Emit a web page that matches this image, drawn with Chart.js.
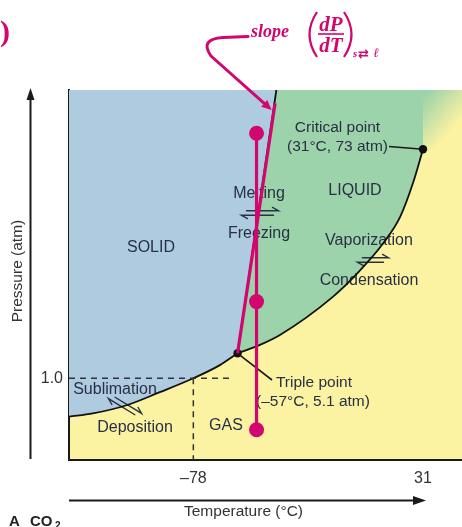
<!DOCTYPE html>
<html><head><meta charset="utf-8">
<script src="https://cdn.jsdelivr.net/npm/chart.js@4/dist/chart.umd.min.js"></script>
<style>html,body{margin:0;padding:0;background:#fff;}#wrap{width:462px;height:527px;}</style>
</head><body><div id="wrap"><canvas id="c" width="462" height="527"></canvas></div>
<script>
// ---------------- DATA (temperature °C, pressure atm; schematic CO2 phase diagram) ----------------
const sublimationT = [-137, -125.7, -109.7, -93.9, -78, -65.4, -57];
const sublimationP = [0.53, 0.57, 0.67, 0.83, 1.0, 3.16, 5.1];
const vaporizationT = [-57, -46.4, -36.9, -11.8, -0.2, 12.1, 20.2, 26.2, 31];
const vaporizationP = [5.1, 7.9, 11.2, 23.9, 31.7, 41.7, 50.6, 61.7, 73];
const fusionT = [-57, -38.6];
const fusionP = [5.1, 100];
const slopeT = [-57, -39.2];
const slopeP = [5.1, 94];
const pathT = [-48, -48, -48];
const pathP = [80.3, 22.3, 0.37];
const specialT = [-57, 31];      // triple point, critical point
const specialP = [5.1, 73];
const isobarT = [-137, -59.2];
const isobarP = [1.0, 1.0];
const isothermT = [-78, -78];
const isothermP = [1.0, 0];
const supercritT = [31, 49.5];
const supercritP = [73, 73];
const xTickValues = [-78, 31];
const yTickValues = [1.0];

// solid region boundary = sublimation curve followed by melting curve
const solidT = sublimationT.concat(fusionT.slice(1));
const solidP = sublimationP.concat(fusionP.slice(1));

// ---------------- schematic (non-linear) pressure axis ----------------
const P_KNOTS = [0, 1, 5.1, 73, 100];
const F_KNOTS = [0, 0.2208, 0.2884, 0.8397, 1];
function interp(v, xs, ys) {
  const n = xs.length - 1;
  if (v <= xs[0]) return ys[0] + (v - xs[0]) * (ys[1] - ys[0]) / (xs[1] - xs[0]);
  for (let i = 1; i <= n; i++) {
    if (v <= xs[i]) return ys[i-1] + (v - xs[i-1]) * (ys[i] - ys[i-1]) / (xs[i] - xs[i-1]);
  }
  return ys[n] + (v - xs[n]) * (ys[n] - ys[n-1]) / (xs[n] - xs[n-1]);
}
class PiecewiseScale extends Chart.LinearScale {
  getPixelForValue(v) { return v == null ? NaN : this.getPixelForDecimal(interp(v, P_KNOTS, F_KNOTS)); }
  getValueForPixel(p) { return interp(this.getDecimalForPixel(p), F_KNOTS, P_KNOTS); }
}
PiecewiseScale.id = 'piecewise';
PiecewiseScale.defaults = Chart.LinearScale.defaults;
Chart.register(PiecewiseScale);

// ---------------- styles ----------------
const MAG = '#d1066e';
const BLUE = '#afcbe0';
const GREEN = '#9dd3aa';
const YELLOW = '#fbf2a2';
const INK = '#283044';
const SANS = '"Liberation Sans", Arial, sans-serif';
const SERIF = '"Liberation Serif", "Times New Roman", serif';
const pts = (T, P) => T.map((t, i) => ({ x: t, y: P[i] }));

function equil(ctx, cx, cy, len, ang) {
  ctx.save();
  ctx.translate(cx, cy); ctx.rotate(ang);
  ctx.strokeStyle = INK; ctx.lineWidth = 1.4; ctx.lineCap = 'round';
  const h = len / 2, g = 2.3, b = 6;
  ctx.beginPath(); ctx.moveTo(-h + 5, -g); ctx.lineTo(h, -g); ctx.lineTo(h - b, -g - 3.3); ctx.stroke();
  ctx.beginPath(); ctx.moveTo(h - 5, g); ctx.lineTo(-h, g); ctx.lineTo(-h + b, g + 3.3); ctx.stroke();
  ctx.restore();
}

const decor = {
  id: 'decor',
  beforeDraw(chart) {
    const { ctx, chartArea: a } = chart;
    ctx.save(); ctx.fillStyle = YELLOW; ctx.fillRect(a.left, a.top, a.right - a.left, a.bottom - a.top); ctx.restore();
  },
  beforeDatasetsDraw(chart) {
    const { ctx, scales: { x, y } } = chart;
    ctx.save();
    ctx.fillStyle = INK; ctx.textAlign = 'center'; ctx.textBaseline = 'alphabetic';
    ctx.font = '16px ' + SANS;
    ctx.fillText('SOLID', 151, 252);
    ctx.fillText('LIQUID', 355, 194.5);
    ctx.fillText('GAS', 226, 429.5);
    ctx.fillText('Melting', 259, 198);
    ctx.fillText('Freezing', 259, 238);
    ctx.fillText('Vaporization', 369, 244.5);
    ctx.fillText('Condensation', 369, 284.5);
    ctx.fillText('Sublimation', 115, 393.5);
    ctx.fillText('Deposition', 135, 431.5);
    ctx.font = '15.5px ' + SANS;
    ctx.fillText('Critical point', 337.5, 132);
    ctx.fillText('(31\u00B0C, 73 atm)', 337.5, 150.5);
    ctx.fillText('Triple point', 314, 386.5);
    ctx.fillText('(\u201357\u00B0C, 5.1 atm)', 313, 406);
    equil(ctx, 260, 213, 37, 0);
    equil(ctx, 373, 260, 31, 0);
    equil(ctx, 125, 406, 36, Math.atan2(55, 90));
    // leader lines
    const cx = x.getPixelForValue(specialT[1]), cy = y.getPixelForValue(specialP[1]);
    const tx = x.getPixelForValue(specialT[0]), ty = y.getPixelForValue(specialP[0]);
    ctx.strokeStyle = '#1a1a1a'; ctx.lineWidth = 1.6;
    ctx.beginPath(); ctx.moveTo(389, 146.5); ctx.lineTo(cx, cy); ctx.stroke();
    ctx.beginPath(); ctx.moveTo(tx, ty); ctx.lineTo(272, 380); ctx.stroke();
    ctx.restore();
  },
  afterDatasetsDraw(chart) {
    const { ctx, chartArea: a } = chart;
    ctx.save();
    // axis arrows
    ctx.strokeStyle = '#1a1a1a'; ctx.fillStyle = '#1a1a1a'; ctx.lineWidth = 2;
    const ax = a.left - 38.5;
    ctx.beginPath(); ctx.moveTo(ax, a.bottom - 1); ctx.lineTo(ax, a.top + 8); ctx.stroke();
    ctx.beginPath(); ctx.moveTo(ax, a.top - 2); ctx.lineTo(ax - 4, a.top + 10); ctx.lineTo(ax + 4, a.top + 10); ctx.closePath(); ctx.fill();
    const ay = a.bottom + 40.5;
    ctx.beginPath(); ctx.moveTo(a.left, ay); ctx.lineTo(416, ay); ctx.stroke();
    ctx.beginPath(); ctx.moveTo(426, ay); ctx.lineTo(413, ay - 4.5); ctx.lineTo(413, ay + 4.5); ctx.closePath(); ctx.fill();
    // axis titles
    ctx.fillStyle = '#333'; ctx.font = '15.5px ' + SANS; ctx.textAlign = 'center'; ctx.textBaseline = 'middle';
    ctx.fillText('Temperature (\u00B0C)', 243.5, 512);
    ctx.save(); ctx.translate(18, 271); ctx.rotate(-Math.PI / 2); ctx.fillText('Pressure (atm)', 0, 0); ctx.restore();
    // figure tag
    ctx.fillStyle = '#222'; ctx.textAlign = 'left'; ctx.textBaseline = 'alphabetic';
    ctx.font = 'bold 15px ' + SANS;
    ctx.fillText('A', 9, 526);
    ctx.fillText('CO', 30, 526);
    ctx.font = 'bold 10px ' + SANS;
    ctx.fillText('2', 55, 529);
    // magenta slope annotation
    ctx.strokeStyle = MAG; ctx.fillStyle = MAG; ctx.lineWidth = 3; ctx.lineCap = 'round'; ctx.lineJoin = 'round';
    const tip = { x: 271.7, y: 110 };
    const from = { x: 211, y: 56 };
    const ang = Math.atan2(tip.y - from.y, tip.x - from.x);
    const hb = { x: tip.x - 10 * Math.cos(ang), y: tip.y - 10 * Math.sin(ang) };
    ctx.beginPath(); ctx.moveTo(248, 36.5); ctx.lineTo(223, 37.5);
    ctx.quadraticCurveTo(199, 39, from.x, from.y); ctx.lineTo(hb.x, hb.y); ctx.stroke();
    ctx.beginPath(); ctx.moveTo(tip.x, tip.y);
    ctx.lineTo(hb.x - 4.5 * Math.sin(ang), hb.y + 4.5 * Math.cos(ang));
    ctx.lineTo(hb.x + 4.5 * Math.sin(ang), hb.y - 4.5 * Math.cos(ang)); ctx.closePath(); ctx.fill();
    ctx.font = 'bold italic 18px ' + SERIF;
    ctx.fillText('slope', 251, 36.5);
    ctx.textAlign = 'center';
    ctx.font = 'bold italic 21px ' + SERIF;
    ctx.fillText('dP', 331, 31);
    ctx.fillText('dT', 331, 51.5);
    ctx.lineWidth = 1.6; ctx.lineCap = 'butt';
    ctx.beginPath(); ctx.moveTo(318, 34); ctx.lineTo(344, 34); ctx.stroke();
    ctx.lineWidth = 2.2;
    ctx.beginPath(); ctx.moveTo(317, 12); ctx.quadraticCurveTo(302, 34.5, 317, 57); ctx.stroke();
    ctx.beginPath(); ctx.moveTo(344, 12); ctx.quadraticCurveTo(359, 34.5, 344, 57); ctx.stroke();
    ctx.textAlign = 'left';
    ctx.font = 'bold italic 11px ' + SERIF;
    ctx.fillText('s', 353, 57);
    ctx.font = 'bold 13px "DejaVu Sans"';
    ctx.fillText('\u21C4', 358, 58);
    ctx.font = 'bold italic 13px "DejaVu Serif"';
    ctx.fillText('\u2113', 373.5, 57);
    ctx.font = 'bold 30px ' + SERIF;
    ctx.fillText(')', 0, 41);
    ctx.restore();
  }
};

const tickFont = { family: '"Liberation Sans", Arial, sans-serif', size: 16 };
new Chart(document.getElementById('c'), {
  type: 'line',
  data: {
    datasets: [
      { label: 'Slope of solid\u2013liquid line', data: pts(slopeT, slopeP), borderColor: MAG, borderWidth: 3.2, pointRadius: 0, order: 1 },
      { label: 'Path', data: pts(pathT, pathP), borderColor: MAG, borderWidth: 3.2, pointRadius: 7.5, pointBackgroundColor: MAG, pointBorderWidth: 0, order: 0 },
      { label: 'Triple & critical points', data: pts(specialT, specialP), showLine: false, pointRadius: 4.2, pointBackgroundColor: '#111', pointBorderWidth: 0, order: 2 },
      { label: '1 atm', data: pts(isobarT, isobarP), borderColor: '#333', borderWidth: 1.5, borderDash: [6, 5], pointRadius: 0, order: 3 },
      { label: '-78 \u00B0C', data: pts(isothermT, isothermP), borderColor: '#333', borderWidth: 1.5, borderDash: [6, 5], pointRadius: 0, order: 3 },
      { label: 'Melting curve', data: pts(fusionT, fusionP), borderColor: '#111', borderWidth: 1.8, pointRadius: 0, order: 4 },
      { label: 'Sublimation curve', data: pts(sublimationT, sublimationP), borderColor: '#111', borderWidth: 1.8, pointRadius: 0, cubicInterpolationMode: 'monotone', order: 4 },
      { label: 'Vaporization curve', data: pts(vaporizationT, vaporizationP), borderColor: '#111', borderWidth: 1.8, pointRadius: 0, cubicInterpolationMode: 'monotone', order: 4 },
      { label: 'Solid region', data: pts(solidT, solidP), borderColor: 'rgba(0,0,0,0)', borderWidth: 0, pointRadius: 0, fill: 'end', backgroundColor: BLUE, order: 5 },
      { label: 'Liquid region', data: pts(vaporizationT, vaporizationP), borderColor: 'rgba(0,0,0,0)', borderWidth: 0, pointRadius: 0, cubicInterpolationMode: 'monotone', fill: 'end', backgroundColor: GREEN, order: 6 },
      { label: 'Supercritical', data: pts(supercritT, supercritP), borderColor: 'rgba(0,0,0,0)', borderWidth: 0, pointRadius: 0, fill: 'end', order: 7,
        backgroundColor: (c) => {
          const ch = c.chart, a = ch.chartArea;
          if (!a) return GREEN;
          const x0 = ch.scales.x.getPixelForValue(supercritT[0]);
          const g = ch.ctx.createLinearGradient(x0, a.top + 8, x0 + 32, a.top + 36);
          g.addColorStop(0, GREEN); g.addColorStop(1, YELLOW);
          return g;
        } }
    ]
  },
  options: {
    responsive: false,
    animation: false,
    events: [],
    layout: { autoPadding: false, padding: { top: 90, left: 0, right: 0, bottom: 0 } },
    plugins: { legend: { display: false }, tooltip: { enabled: false }, filler: { drawTime: 'beforeDatasetsDraw' } },
    scales: {
      x: {
        type: 'linear', min: -137, max: 49.5, z: 1,
        grid: { display: false, drawTicks: false },
        border: { display: true, color: '#1a1a1a', width: 2 },
        ticks: { font: tickFont, color: '#333', padding: 9, maxRotation: 0,
          callback: (v) => (v < 0 ? '\u2013' + Math.abs(v) : String(v)) },
        afterBuildTicks: (s) => { s.ticks = xTickValues.map((v) => ({ value: v })); },
        afterFit: (s) => { s.height = 67; s.paddingLeft = 0; s.paddingRight = 0; }
      },
      y: {
        type: 'piecewise', min: 0, max: 100, z: 1,
        grid: { display: false, drawTicks: false },
        border: { display: true, color: '#1a1a1a', width: 2 },
        ticks: { font: tickFont, color: '#333', padding: 6, callback: (v) => Number(v).toFixed(1) },
        afterBuildTicks: (s) => { s.ticks = yTickValues.map((v) => ({ value: v })); },
        afterFit: (s) => { s.width = 69; s.paddingTop = 0; s.paddingBottom = 0; }
      }
    }
  },
  plugins: [decor]
});
</script>
</body></html>
